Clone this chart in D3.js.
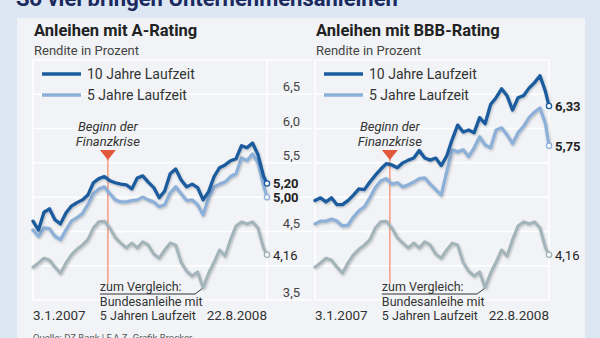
<!DOCTYPE html>
<html>
<head>
<meta charset="utf-8">
<script src="https://cdn.jsdelivr.net/npm/d3@7"></script>
<style>
  body { margin: 0; background: #dde7f4; }
  svg { display: block; font-family: Roboto, "Noto Sans", sans-serif; }
</style>
</head>
<body>
<div id="chart"></div>
<script>
// dates of the readings (every two weeks + last day)
var dates = ["2007-01-03","2007-01-17","2007-01-31","2007-02-14","2007-02-28","2007-03-14","2007-03-28",
  "2007-04-11","2007-04-25","2007-05-09","2007-05-23","2007-06-06","2007-06-20","2007-07-04","2007-07-18",
  "2007-08-01","2007-08-15","2007-08-29","2007-09-12","2007-09-26","2007-10-10","2007-10-24","2007-11-07",
  "2007-11-21","2007-12-05","2007-12-19","2008-01-02","2008-01-16","2008-01-30","2008-02-13","2008-02-27",
  "2008-03-12","2008-03-26","2008-04-09","2008-04-23","2008-05-07","2008-05-21","2008-06-04","2008-06-18",
  "2008-07-02","2008-07-16","2008-07-30","2008-08-13","2008-08-22"];

// A-Rating
var a10 = [4.65,4.52,4.78,4.83,4.67,4.61,4.77,4.87,4.92,4.96,5.03,5.21,5.27,5.30,5.24,5.21,5.19,5.18,5.12,5.28,5.31,5.22,
  5.14,4.99,5.09,5.34,5.41,5.25,5.15,5.19,5.14,4.96,5.08,5.30,5.43,5.47,5.53,5.56,5.75,5.72,5.79,5.62,5.31,5.20];
var a5 = [4.52,4.43,4.55,4.54,4.43,4.38,4.52,4.65,4.70,4.76,4.89,5.05,5.12,5.15,5.05,4.96,4.93,4.93,4.95,4.96,5.00,4.96,
  4.93,4.86,4.89,5.06,5.15,5.05,4.95,4.96,4.89,4.74,4.99,5.15,5.19,5.22,5.30,5.34,5.57,5.53,5.63,5.50,5.18,5.00];

// BBB-Rating
var bbb10 = [4.95,4.99,4.93,4.99,4.89,4.89,4.95,5.03,5.12,5.11,5.22,5.32,5.41,5.49,5.47,5.43,5.50,5.54,5.57,5.68,5.57,5.54,
  5.57,5.46,5.60,5.84,6.05,5.95,5.98,5.94,6.16,6.07,6.35,6.45,6.58,6.48,6.27,6.45,6.48,6.59,6.67,6.77,6.54,6.33];
var bbb5 = [4.61,4.65,4.65,4.68,4.65,4.58,4.59,4.71,4.80,4.86,4.99,5.14,5.24,5.27,5.19,5.21,5.15,5.18,5.22,5.27,5.28,5.19,
  5.11,5.03,5.37,5.69,5.66,5.69,5.59,5.72,5.88,5.76,5.72,5.98,6.01,5.91,5.78,5.94,6.03,6.16,6.24,6.30,6.07,5.75];

// Bundesanleihe 5 Jahre (Vergleich)
var bund = [3.98,4.04,4.11,4.08,3.98,3.89,4.04,4.16,4.24,4.30,4.38,4.55,4.64,4.65,4.55,4.41,4.33,4.26,4.33,4.26,4.35,4.30,
  4.17,4.11,4.23,4.33,4.30,4.05,3.92,3.85,3.91,3.68,3.89,4.05,4.23,4.14,4.38,4.58,4.64,4.61,4.64,4.55,4.26,4.16];

var gridValues = [3.5, 4, 4.5, 5, 5.5, 6, 6.5, 7];
var tickValues = [3.5, 4.5, 5.5, 6.0, 6.5];
var dateLabels = ["3.1.2007", "22.8.2008"];
var crisisDate = "2007-07-13";
var legendLabels = ["10 Jahre Laufzeit", "5 Jahre Laufzeit"];

var W = 600, H = 338;
var parse = d3.timeParse("%Y-%m-%d");
var de = d3.formatLocale({decimal: ",", thousands: ".", grouping: [3], currency: ["", " €"]});
var f1 = de.format(".1f"), f2 = de.format(".2f");

var svg = d3.select("#chart").append("svg")
    .attr("width", W).attr("height", H);

var defs = svg.append("defs");
defs.append("filter").attr("id", "shadow")
    .attr("x", "-5%").attr("y", "-5%").attr("width", "110%").attr("height", "120%")
  .append("feDropShadow")
    .attr("dx", 0.8).attr("dy", 1.2).attr("stdDeviation", 0.8)
    .attr("flood-color", "#000").attr("flood-opacity", 0.25);

// big title, cut at the top
svg.append("text")
    .attr("x", 16).attr("y", 6)
    .attr("font-size", 22).attr("font-weight", "bold")
    .attr("fill", "#1b2a5e")
    .text("So viel bringen Unternehmensanleihen");

// panel
svg.append("rect")
    .attr("x", 17).attr("y", 18).attr("width", 568).attr("height", 330)
    .attr("fill", "#f1f3f6");

var y = d3.scaleLinear().domain([3.5, 7]).range([300, 60]);
var colors = {ten: "#1a5c9e", five: "#8db0d8", bund: "#a2b4ba"};

function panel(cfg) {
  var g = svg.append("g");
  var x = d3.scaleTime()
      .domain([parse(dates[0]), parse(dates[dates.length - 1])])
      .range([cfg.x0, cfg.x1]);

  // grid
  g.selectAll(".grid").data(gridValues).enter().append("line")
      .attr("x1", cfg.x0).attr("x2", cfg.gridEnd)
      .attr("y1", function(d) { return y(d); })
      .attr("y2", function(d) { return y(d); })
      .attr("stroke", "#ffffff").attr("stroke-width", 1.5);
  [cfg.x0, cfg.x1].forEach(function(xx) {
    g.append("line").attr("x1", xx).attr("x2", xx)
        .attr("y1", y(7)).attr("y2", y(3.5))
        .attr("stroke", "#ffffff").attr("stroke-width", 1.5);
  });

  // y tick labels (only left chart)
  if (cfg.ticks) {
    g.selectAll(".tick").data(tickValues).enter().append("text")
        .attr("x", 300).attr("y", function(d) { return y(d) - 3; })
        .attr("text-anchor", "end")
        .attr("font-size", 13).attr("fill", "#444")
        .text(function(d) { return f1(d); });
  }

  // titles
  g.append("text").attr("x", cfg.x0 + 1).attr("y", 36)
      .attr("font-size", 16.5).attr("font-weight", "bold").attr("fill", "#222")
      .text(cfg.title);
  g.append("text").attr("x", cfg.x0 + 1).attr("y", 55)
      .attr("font-size", 13).attr("fill", "#444")
      .text("Rendite in Prozent");

  // legend
  [colors.ten, colors.five].forEach(function(c, i) {
    var ly = 74 + i * 21;
    g.append("line").attr("x1", cfg.x0 + 9).attr("x2", cfg.x0 + 48)
        .attr("y1", ly).attr("y2", ly)
        .attr("stroke", c).attr("stroke-width", 3.5);
    g.append("text").attr("x", cfg.x0 + 54).attr("y", ly + 5)
        .attr("font-size", 14).attr("fill", "#333")
        .text(legendLabels[i]);
  });

  // crisis marker
  var cx = x(parse(crisisDate));
  g.append("line").attr("x1", cx).attr("x2", cx)
      .attr("y1", 158).attr("y2", 284)
      .attr("stroke", "#f2a48a").attr("stroke-width", 1.6);
  g.append("path")
      .attr("d", "M" + (cx - 8) + ",150L" + (cx + 8) + ",150L" + cx + ",160Z")
      .attr("fill", "#e2583c");
  g.append("text").attr("x", cx).attr("y", 131)
      .attr("text-anchor", "middle").attr("font-size", 13).attr("font-style", "italic")
      .attr("fill", "#333").text("Beginn der");
  g.append("text").attr("x", cx).attr("y", 146)
      .attr("text-anchor", "middle").attr("font-size", 13).attr("font-style", "italic")
      .attr("fill", "#333").text("Finanzkrise");

  // lines
  var line = d3.line()
      .x(function(d, i) { return x(parse(dates[i])); })
      .y(function(d) { return y(d); })
      .curve(d3.curveLinear);

  var series = [
    {v: bund, c: colors.bund, w: 3, bold: false},
    {v: cfg.five, c: colors.five, w: 3.3, bold: true},
    {v: cfg.ten, c: colors.ten, w: 3.3, bold: true}
  ];
  series.forEach(function(s) {
    g.append("path").datum(s.v)
        .attr("d", line)
        .attr("fill", "none")
        .attr("stroke", s.c).attr("stroke-width", s.w)
        .attr("stroke-linejoin", "round").attr("stroke-linecap", "round")
        .attr("filter", "url(#shadow)");
  });
  series.forEach(function(s) {
    var last = s.v[s.v.length - 1];
    g.append("circle")
        .attr("cx", cfg.x1).attr("cy", y(last)).attr("r", 2.6)
        .attr("fill", "#fff").attr("stroke", s.c).attr("stroke-width", 1.3);
    g.append("text")
        .attr("x", cfg.x1 + 6).attr("y", y(last) + 5 + (s.dy || 0))
        .attr("font-size", 13).attr("font-weight", s.bold ? "bold" : "normal")
        .attr("fill", "#222")
        .text(f2(last));
  });

  // date labels
  g.append("text").attr("x", cfg.x0).attr("y", 320)
      .attr("font-size", 13.5).attr("fill", "#333").text(dateLabels[0]);
  g.append("text").attr("x", cfg.x1).attr("y", 320).attr("text-anchor", "end")
      .attr("font-size", 13.5).attr("fill", "#333").text(dateLabels[1]);

  // Vergleich annotation
  var minI = d3.minIndex(bund);
  var mx = x(parse(dates[minI])), my = y(bund[minI]);
  var tx = cx - 8;
  g.append("text").attr("x", tx).attr("y", 291)
      .attr("font-size", 12.5).attr("fill", "#333").text("zum Vergleich:");
  g.append("path")
      .attr("d", "M" + tx + ",294H" + (mx - 8) + "L" + (mx - 1) + "," + (my + 1))
      .attr("fill", "none").attr("stroke", "#333").attr("stroke-width", 1);
  g.append("text").attr("x", tx).attr("y", 306)
      .attr("font-size", 12.5).attr("fill", "#333").text("Bundesanleihe mit");
  g.append("text").attr("x", tx).attr("y", 320)
      .attr("font-size", 12.5).attr("fill", "#333").text("5 Jahren Laufzeit");
}

panel({x0: 33, x1: 267, gridEnd: 312, ticks: true, title: "Anleihen mit A-Rating", ten: a10, five: a5});
panel({x0: 315, x1: 549, gridEnd: 549, ticks: false, title: "Anleihen mit BBB-Rating", ten: bbb10, five: bbb5});

// source
svg.append("text").attr("x", 33).attr("y", 341)
    .attr("font-size", 9.5).attr("fill", "#555")
    .text("Quelle: DZ Bank | F.A.Z.-Grafik Brocker");
</script>
</body>
</html>
